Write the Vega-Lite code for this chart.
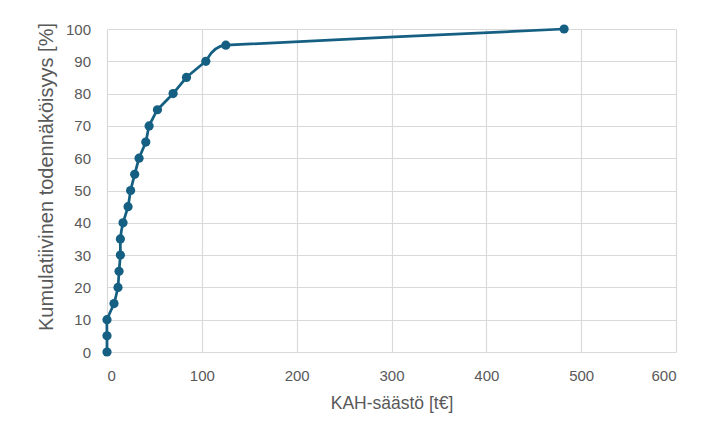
{
  "$schema": "https://vega.github.io/schema/vega-lite/v6.json",
  "width": 569,
  "height": 323,
  "autosize": {"type": "none"},
  "padding": {"left": 107, "top": 29, "right": 42, "bottom": 85},
  "background": "white",
  "config": {
    "view": {"stroke": null},
    "font": "Liberation Sans",
    "axis": {
      "domain": false,
      "ticks": false,
      "tickSize": 0,
      "grid": true,
      "gridColor": "#d9d9d9",
      "gridWidth": 1.2,
      "labelFont": "Liberation Sans",
      "labelFontSize": 15,
      "labelColor": "#595959",
      "titleFont": "Liberation Sans",
      "titleFontWeight": "normal",
      "titleColor": "#595959"
    }
  },
  "data": {
    "values": [
      {"x": 0, "y": 0},
      {"x": 0, "y": 5},
      {"x": 0, "y": 10},
      {"x": 7.4, "y": 15},
      {"x": 11.6, "y": 20},
      {"x": 12.7, "y": 25},
      {"x": 14.1, "y": 30},
      {"x": 14.1, "y": 35},
      {"x": 16.9, "y": 40},
      {"x": 22.2, "y": 45},
      {"x": 24.9, "y": 50},
      {"x": 29.2, "y": 55},
      {"x": 33.8, "y": 60},
      {"x": 40.9, "y": 65},
      {"x": 44.4, "y": 70},
      {"x": 53.2, "y": 75},
      {"x": 69.7, "y": 80},
      {"x": 83.8, "y": 85},
      {"x": 104.2, "y": 90},
      {"x": 125.3, "y": 95},
      {"x": 482, "y": 100}
    ]
  },
  "encoding": {
    "x": {
      "field": "x",
      "type": "quantitative",
      "scale": {"domain": [0, 600], "nice": false, "zero": true},
      "axis": {
        "tickCount": 6,
        "labelPadding": 16,
        "labelBaseline": "top",
        "title": "KAH-säästö [t€]",
        "titleFontSize": 17.5,
        "titleBaseline": "middle",
        "titleY": 51
      }
    },
    "y": {
      "field": "y",
      "type": "quantitative",
      "scale": {"domain": [0, 100], "nice": false},
      "axis": {
        "tickCount": 10,
        "labelPadding": 16.5,
        "title": "Kumulatiivinen todennäköisyys [%]",
        "titleFontSize": 20,
        "titleBaseline": "middle",
        "titleAlign": "center",
        "titleAngle": -90,
        "titleX": -60.6,
        "titleY": 147.5
      }
    },
    "order": {"field": "y", "type": "quantitative"}
  },
  "layer": [
    {
      "mark": {"type": "line", "interpolate": "cardinal", "tension": 0.75, "color": "#156082", "strokeWidth": 2.75}
    },
    {
      "mark": {"type": "point", "filled": true, "opacity": 1, "color": "#156082", "size": 85}
    }
  ]
}
